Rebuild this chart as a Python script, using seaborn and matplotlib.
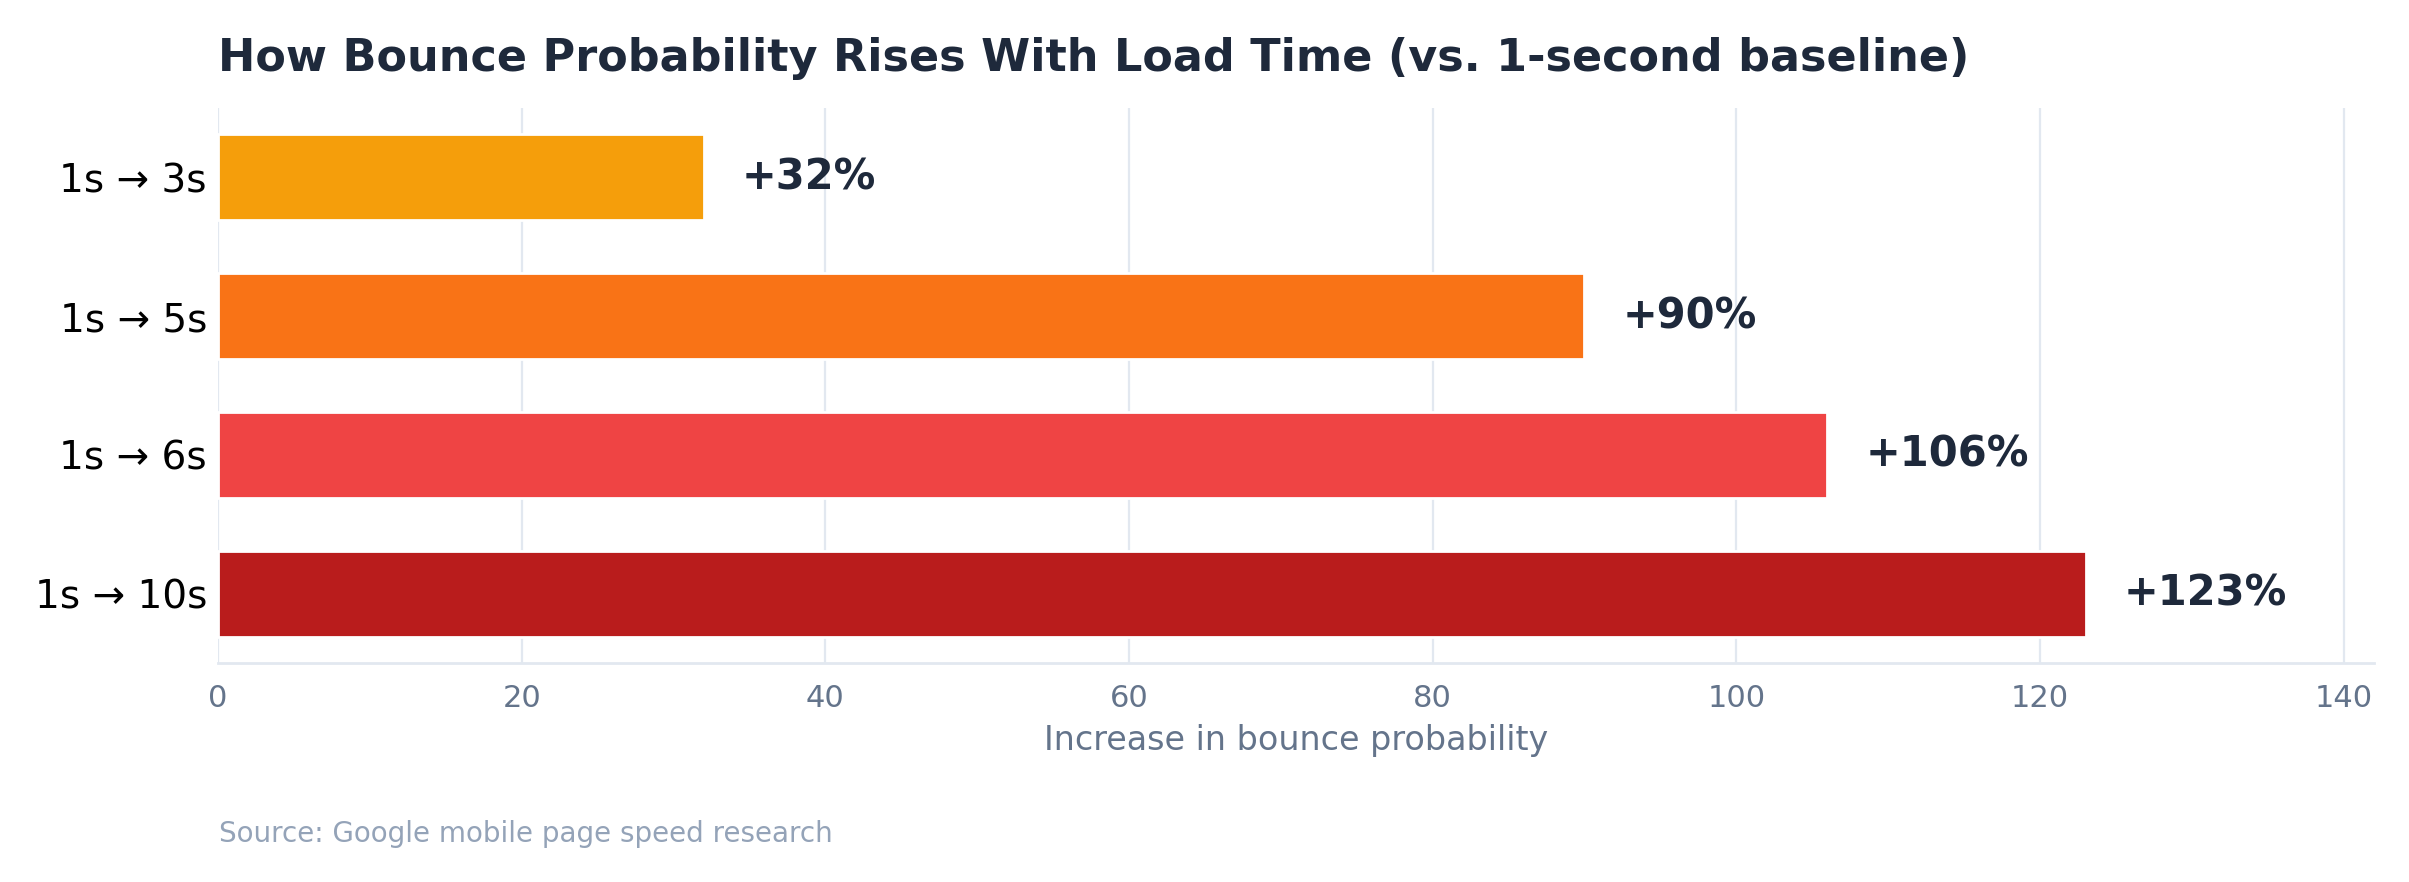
import pandas as pd
import seaborn as sns
from matplotlib import pyplot as plt

# data
transitions = ["1s → 3s", "1s → 5s", "1s → 6s", "1s → 10s"]
increase_pct = [32, 90, 106, 123]
bar_colors = ["#f59e0b", "#f97316", "#ef4444", "#b91c1c"]

df = pd.DataFrame({"transition": transitions, "increase": increase_pct})

sns.set_style("white")
plt.rcParams["font.family"] = ["DejaVu Sans"]

fig = plt.figure(figsize=(12.045, 4.41), dpi=200)
ax = fig.add_axes([218 / 2409, 1 - 663 / 882, (2374 - 218) / 2409, (663 - 108) / 882])

sns.barplot(data=df, x="increase", y="transition", hue="transition",
            palette=bar_colors, orient="h", width=0.62, legend=False,
            saturation=1, ax=ax)

# value labels
for i, v in enumerate(increase_pct):
    ax.text(v + 2.5, i, "+{}%".format(v), va="center", ha="left",
            fontsize=15, fontweight="bold", color="#1e293b")

ax.set_xlim(0, 142)
ax.set_ylim(3.5, -0.5)
ax.set_xticks(range(0, 141, 20))

ax.grid(axis="x", color="#e2e8f0", linewidth=0.8)
ax.grid(axis="y", visible=False)
ax.set_axisbelow(True)

for side in ["top", "right", "left"]:
    ax.spines[side].set_visible(False)
ax.spines["bottom"].set_color("#e2e8f0")
ax.spines["bottom"].set_linewidth(1.0)

ax.tick_params(axis="y", length=0, pad=4, labelsize=14, labelcolor="black")
ax.tick_params(axis="x", length=3.6, width=0.8, color="#64748b", pad=4,
               labelsize=11, labelcolor="#64748b")

ax.set_ylabel("")
ax.set_xlabel("Increase in bounce probability", fontsize=12, color="#64748b", labelpad=4)

fig.text(218 / 2409, 1 - 71 / 882,
         "How Bounce Probability Rises With Load Time (vs. 1-second baseline)",
         fontsize=16, fontweight="bold", color="#1e293b", ha="left", va="baseline")
fig.text(219 / 2409, 1 - 842 / 882, "Source: Google mobile page speed research",
         fontsize=10, color="#94a3b8", ha="left", va="baseline")

fig.savefig("out.png", dpi=200)
